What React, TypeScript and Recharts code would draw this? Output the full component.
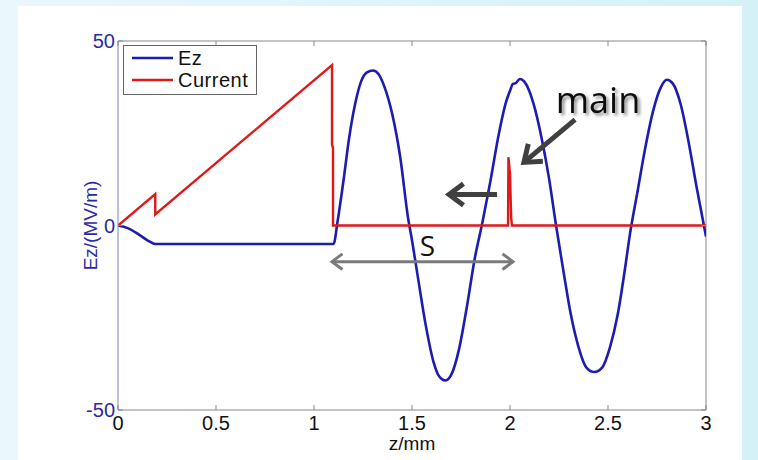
import React from "react";
import {
  LineChart,
  Line,
  XAxis,
  YAxis,
  ReferenceLine,
  ReferenceDot,
  Legend,
} from "recharts";

// Ez along z (MV/m)
const ezZ = [
  0, 0.05, 0.1, 0.15, 0.19, 0.5, 1.0, 1.1, 1.12, 1.15, 1.18, 1.21, 1.24, 1.27, 1.3,
  1.33, 1.36, 1.4, 1.44, 1.48, 1.5, 1.53, 1.57, 1.61, 1.64, 1.67, 1.7, 1.74, 1.78,
  1.82, 1.86, 1.9, 1.94, 1.98, 2.0, 2.015, 2.03, 2.05, 2.08, 2.12, 2.16, 2.2, 2.235,
  2.27, 2.31, 2.35, 2.39, 2.43, 2.47, 2.51, 2.55, 2.59, 2.61, 2.65, 2.69, 2.73,
  2.77, 2.8, 2.83, 2.87, 2.91, 2.95, 3.0,
];
const ezV = [
  0, -0.7, -2.2, -4.0, -5, -5, -5, -5, 1, 12, 24, 33, 39, 41.5, 42,
  41, 37.5, 30, 18.5, 2, -4, -14, -27, -37, -41, -42, -40.5, -33.5, -22,
  -9, 1, 12, 24, 33.5, 36.5, 38.4, 38.6, 39.7, 38.5, 33, 24, 12.5, 0,
  -11.5, -24, -33, -38.5, -39.7, -38.5, -33, -24, -10.5, -3, 9, 21, 31,
  37.5, 39.5, 38.5, 33, 23, 11, -3,
];

// Current along z
const curZ = [
  0, 0.19, 0.19, 1.092, 1.092, 1.097, 1.097, 1.5, 1.99, 1.992, 2.0, 2.006, 2.01,
  2.5, 3.0,
];
const curV = [0, 8.5, 3, 43.5, 22, 21, 0, 0, 0, 18.5, 14, 2, 0, 0, 0];

const xTicks = [0, 0.5, 1, 1.5, 2, 2.5, 3];
const yTicks = [-50, 0, 50];

const ezData = ezZ.map((z, i) => ({ z, ez: ezV[i] }));
const curData = curZ.map((z, i) => ({ z, current: curV[i] }));

const BLUE = "#1c1cb0";
const RED = "#e01818";
const AXIS_BLUE = "#2a2aa8";
const FONT = "'Liberation Sans', Arial, sans-serif";

const PLOT_W = 588;
const PLOT_H = 369;

function XTick(props: any) {
  const { x, y, payload } = props;
  return (
    <g>
      <line x1={x} x2={x} y1={y} y2={y - 5} stroke="#888" />
      <line x1={x} x2={x} y1={y - PLOT_H} y2={y - PLOT_H + 5} stroke="#888" />
      <text x={x} y={y + 20} textAnchor="middle" fontSize={20} fill="#111" fontFamily={FONT}>
        {payload.value}
      </text>
    </g>
  );
}

function YTick(props: any) {
  const { x, y, payload } = props;
  return (
    <g>
      <line x1={x} x2={x + 5} y1={y} y2={y} stroke="#8080c8" />
      <line x1={x + PLOT_W} x2={x + PLOT_W - 5} y1={y} y2={y} stroke="#888" />
      <text x={x - 3} y={y + 7} textAnchor="end" fontSize={20} fill={AXIS_BLUE} fontFamily={FONT}>
        {payload.value}
      </text>
    </g>
  );
}

function arrow(color: string, width: number, head: number, both: boolean) {
  return (p: any) => {
    const { x1, y1, x2, y2 } = p;
    const a = Math.atan2(y2 - y1, x2 - x1);
    const tip = (x: number, y: number, d: number) =>
      `M${x + head * Math.cos(d + 2.5)},${y + head * Math.sin(d + 2.5)} L${x},${y} L${
        x + head * Math.cos(d - 2.5)
      },${y + head * Math.sin(d - 2.5)}`;
    return (
      <g fill="none" stroke={color} strokeWidth={width} strokeLinejoin="miter">
        <line x1={x1} y1={y1} x2={x2} y2={y2} />
        <path d={tip(x2, y2, a)} />
        {both && <path d={tip(x1, y1, a + Math.PI)} />}
      </g>
    );
  };
}

const mainText = (p: any) => (
  <g>
    <defs>
      <filter id="mainShadow" x="-20%" y="-40%" width="140%" height="180%">
        <feDropShadow dx="2.5" dy="2.5" stdDeviation="1.5" floodColor="#000" floodOpacity="0.45" />
      </filter>
    </defs>
    <text
      x={p.cx}
      y={p.cy}
      fontFamily="'Open Sans', sans-serif"
      fontSize={36}
      textAnchor="middle"
      fill="#111"
      filter="url(#mainShadow)"
    >
      main
    </text>
  </g>
);

const sText = (p: any) => (
  <text x={p.cx} y={p.cy} fontFamily="'Open Sans', sans-serif" fontSize={28} textAnchor="middle" fill="#111">
    S
  </text>
);

const LegendBox = () => (
  <div
    style={{
      border: "1px solid #666",
      background: "#fff",
      padding: "1px 8px 3px 8px",
      fontFamily: FONT,
      fontSize: 20,
      color: "#111",
      lineHeight: "22px",
    }}
  >
    {[
      ["Ez", BLUE],
      ["Current", RED],
    ].map(([name, c]) => (
      <div key={name} style={{ display: "flex", alignItems: "center", height: 22 }}>
        <svg width={41} height={6}>
          <line x1={0} x2={41} y1={3} y2={3} stroke={c} strokeWidth={2.5} />
        </svg>
        <span style={{ marginLeft: 5, letterSpacing: 0.5 }}>{name}</span>
      </div>
    ))}
  </div>
);

export default function App() {
  return (
    <div
      style={{
        position: "absolute",
        left: 0,
        top: 0,
        width: 758,
        height: 460,
        background: "linear-gradient(90deg, #eaf8fd, #d3f1f7)",
        overflow: "hidden",
      }}
    >
      <div
        style={{ position: "absolute", left: 18, top: 6, width: 724, height: 454, background: "#fff" }}
      />
      <div style={{ position: "absolute", left: 0, top: 0 }}>
        <LineChart width={758} height={460} margin={{ top: 41, right: 52, left: 0, bottom: 0 }}>
          <XAxis
            dataKey="z"
            type="number"
            domain={[0, 3]}
            ticks={xTicks}
            allowDataOverflow
            height={50}
            stroke="#888"
            tickLine={false}
            tickSize={0}
            tickMargin={0}
            tick={<XTick />}
            label={{
              content: (lp: any) => (
                <text
                  x={lp.viewBox.x + lp.viewBox.width / 2}
                  y={lp.viewBox.y + 40}
                  textAnchor="middle"
                  fontSize={19}
                  fill="#111"
                  fontFamily={FONT}
                >
                  z/mm
                </text>
              ),
            }}
          />
          <YAxis
            type="number"
            domain={[-50, 50]}
            ticks={yTicks}
            allowDataOverflow
            width={118}
            stroke="#8080c8"
            tickLine={false}
            tickSize={0}
            tickMargin={0}
            tick={<YTick />}
            label={{
              content: (lp: any) => {
                const cx = 97;
                const cy = lp.viewBox.y + lp.viewBox.height / 2;
                return (
                  <text
                    x={cx}
                    y={cy}
                    transform={`rotate(-90 ${cx} ${cy})`}
                    textAnchor="middle"
                    fontSize={19}
                    fill={AXIS_BLUE}
                    fontFamily={FONT}
                  >
                    Ez/(MV/m)
                  </text>
                );
              },
            }}
          />
          <ReferenceLine y={50} stroke="#888" />
          <ReferenceLine x={3} stroke="#888" />
          <Legend
            layout="vertical"
            align="center"
            verticalAlign="middle"
            content={<LegendBox />}
            wrapperStyle={{ position: "absolute", left: 123, top: 45, width: "auto", height: "auto" }}
          />
          <Line
            data={ezData}
            dataKey="ez"
            type="monotone"
            stroke={BLUE}
            strokeWidth={2.6}
            dot={false}
            isAnimationActive={false}
          />
          <Line
            data={curData}
            dataKey="current"
            type="linear"
            stroke={RED}
            strokeWidth={2.4}
            dot={false}
            isAnimationActive={false}
          />
          <ReferenceLine
            segment={[
              { x: 2.332, y: 28.7 },
              { x: 2.071, y: 17.1 },
            ]}
            shape={arrow("#404040", 5, 19, false)}
          />
          <ReferenceLine
            segment={[
              { x: 1.934, y: 8.4 },
              { x: 1.689, y: 8.4 },
            ]}
            shape={arrow("#404040", 5, 18, false)}
          />
          <ReferenceLine
            segment={[
              { x: 1.092, y: -9.8 },
              { x: 2.015, y: -9.8 },
            ]}
            shape={arrow("#7a7a7a", 3, 13, true)}
          />
          <ReferenceDot x={2.449} y={30.6} r={0} shape={mainText} />
          <ReferenceDot x={1.579} y={-8.4} r={0} shape={sText} />
        </LineChart>
      </div>
    </div>
  );
}
